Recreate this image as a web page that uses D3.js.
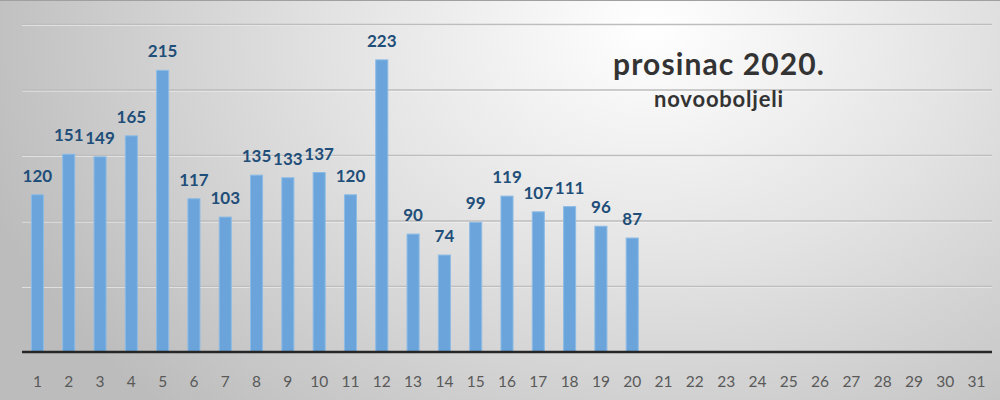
<!DOCTYPE html>
<html><head><meta charset="utf-8">
<script src="https://cdn.jsdelivr.net/npm/d3@7"></script>
<style>html,body{margin:0;padding:0;overflow:hidden;}svg{display:block;}</style>
</head><body>
<svg id="chart" width="1000" height="400"></svg>
<script>
const days = d3.range(1, 32).map(String);
const values = [120,151,149,165,215,117,103,135,133,137,120,223,90,74,99,119,107,111,96,87];
const yTicks = [0,50,100,150,200,250];
const title = "prosinac 2020.";
const subtitle = "novooboljeli";

const W = 1000, H = 400;
const m = {left: 22, right: 8, top: 24.5, bottom: 48};
const svg = d3.select("#chart");
const defs = svg.append("defs");
const g1 = defs.append("radialGradient").attr("id","bg")
  .attr("gradientUnits","userSpaceOnUse").attr("cx",650).attr("cy",30).attr("r",700)
  .attr("gradientTransform","translate(650,30) scale(1,0.75) translate(-650,-30)");
g1.append("stop").attr("offset",0).attr("stop-color","#ffffff");
g1.append("stop").attr("offset",0.45).attr("stop-color","#e3e3e3");
g1.append("stop").attr("offset",1).attr("stop-color","#bcbcbc");
svg.append("rect").attr("width",W).attr("height",H).attr("fill","url(#bg)");
svg.append("line").attr("x1",0).attr("x2",W).attr("y1",0.5).attr("y2",0.5).attr("stroke","#a0a0a0");

const x = d3.scaleBand().domain(days).range([m.left, W - m.right]).paddingInner(0.615).paddingOuter(0.3);
const y = d3.scaleLinear().domain([0,250]).range([H - m.bottom, m.top]);

// gridlines
const grid = svg.append("g");
yTicks.filter(t => t > 0).forEach(t => {
  grid.append("line").attr("x1",m.left).attr("x2",W-m.right).attr("y1",y(t)+1).attr("y2",y(t)+1)
    .attr("stroke","#ffffff").attr("stroke-opacity",0.7).attr("stroke-width",1);
  grid.append("line").attr("x1",m.left).attr("x2",W-m.right).attr("y1",y(t)).attr("y2",y(t))
    .attr("stroke","#bdbdbd").attr("stroke-width",1.5);
});

// bars
svg.append("g").selectAll("rect").data(values).join("rect")
  .attr("x",(d,i)=>x(days[i])).attr("width",x.bandwidth())
  .attr("y",d=>y(d)).attr("height",d=>y(0)-y(d))
  .attr("fill","#6aa4da").attr("stroke","#8cbbe6").attr("stroke-width",1);

// value labels
svg.append("g").selectAll("text").data(values).join("text")
  .attr("x",(d,i)=>x(days[i])+x.bandwidth()/2).attr("y",d=>y(d)-13)
  .attr("text-anchor","middle").attr("font-family","Lato, 'Open Sans', sans-serif")
  .attr("font-weight","bold").attr("font-size",17).attr("fill","#1f4e79")
  .text(d=>d);

// x axis
const xAxis = svg.append("g").attr("transform",`translate(0,${y(0)})`)
  .call(d3.axisBottom(x).tickSize(0).tickPadding(24));
xAxis.select(".domain").attr("stroke","#262626").attr("stroke-width",2.5)
  .attr("d",`M${m.left},0H${W-m.right}`);
xAxis.selectAll("text").attr("font-family","Lato, 'Open Sans', sans-serif")
  .attr("font-size",15.5).attr("fill","#595959");

// titles
svg.append("text").attr("x",719).attr("y",75).attr("text-anchor","middle")
  .attr("font-family","Lato, 'Open Sans', sans-serif").attr("font-weight","bold")
  .attr("font-size",30).attr("fill","#333333").attr("letter-spacing",1.1).text(title);
svg.append("text").attr("x",719).attr("y",107).attr("text-anchor","middle")
  .attr("font-family","Lato, 'Open Sans', sans-serif").attr("font-weight","bold")
  .attr("font-size",22).attr("fill","#333333").attr("letter-spacing",0.8).text(subtitle);
</script>
</body></html>
